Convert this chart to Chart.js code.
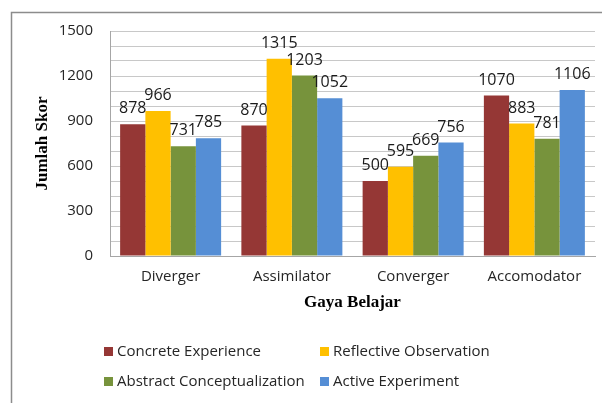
<!DOCTYPE html>
<html>
<head>
<meta charset="utf-8">
<script src="https://cdn.jsdelivr.net/npm/chart.js@4"></script>
<style>
  html, body { margin: 0; padding: 0; background: #fff; }
  #wrap { width: 602px; height: 403px; position: relative; }
</style>
</head>
<body>
<div id="wrap"><canvas id="chart"></canvas></div>
<script>
// data
const categories = ['Diverger', 'Assimilator', 'Converger', 'Accomodator'];
const seriesNames = ['Concrete Experience', 'Reflective Observation', 'Abstract Conceptualization', 'Active Experiment'];
const concreteExperience = [878, 870, 500, 1070];
const reflectiveObservation = [966, 1315, 595, 883];
const abstractConceptualization = [731, 1203, 669, 781];
const activeExperiment = [785, 1052, 756, 1106];
const yTickLabels = [0, 300, 600, 900, 1200, 1500];

const colors = ['#953735', '#ffc000', '#77933c', '#558ed5'];
const seriesValues = [concreteExperience, reflectiveObservation, abstractConceptualization, activeExperiment];

const FONT = '"Open Sans", "Noto Sans", sans-serif';
const SERIF = '"Liberation Serif", "DejaVu Serif", serif';

// value labels above each bar
const barLabels = {
  id: 'barLabels',
  afterDatasetsDraw(chart) {
    const ctx = chart.ctx;
    ctx.save();
    ctx.font = '16px ' + FONT;
    ctx.fillStyle = '#1a1a1a';
    ctx.textAlign = 'center';
    ctx.textBaseline = 'alphabetic';
    chart.data.datasets.forEach((ds, i) => {
      chart.getDatasetMeta(i).data.forEach((bar, j) => {
        ctx.fillText(String(ds.data[j]), bar.x, bar.y - 11);
      });
    });
    ctx.restore();
  }
};

// legend in two rows, two columns, plus the outer frame
const sideBits = {
  id: 'sideBits',
  afterDraw(chart) {
    const ctx = chart.ctx;
    ctx.save();
    ctx.strokeStyle = '#8c8c8c';
    ctx.lineWidth = 1.5;
    ctx.beginPath();
    ctx.moveTo(11.5, 403);
    ctx.lineTo(11.5, 12.5);
    ctx.lineTo(602, 12.5);
    ctx.stroke();

    const cols = [104, 320];
    const rows = [352, 382];
    ctx.font = '15px ' + FONT;
    ctx.textBaseline = 'middle';
    ctx.textAlign = 'left';
    chart.data.datasets.forEach((ds, i) => {
      const x = cols[i % 2];
      const y = rows[Math.floor(i / 2)];
      ctx.fillStyle = ds.backgroundColor;
      ctx.fillRect(x, y - 5, 9, 9);
      ctx.fillStyle = '#262626';
      ctx.fillText(ds.label, x + 13, y);
    });
    ctx.restore();
  }
};

new Chart(document.getElementById('chart'), {
  type: 'bar',
  data: {
    labels: categories,
    datasets: seriesNames.map((name, i) => ({
      label: name,
      data: seriesValues[i],
      backgroundColor: colors[i],
      borderWidth: 0,
      barPercentage: 1,
      categoryPercentage: 0.833,
    })),
  },
  options: {
    responsive: true,
    maintainAspectRatio: false,
    animation: false,
    layout: { padding: { left: 11, top: 31, right: 7, bottom: 87 } },
    plugins: {
      legend: { display: false },
      tooltip: { enabled: false },
    },
    scales: {
      x: {
        grid: { display: false, drawTicks: false },
        border: { color: '#a6a6a6', width: 1 },
        ticks: { color: '#262626', font: { family: FONT, size: 15 }, padding: 12, maxRotation: 0 },
        title: {
          display: true,
          text: 'Gaya Belajar',
          color: '#000',
          font: { family: SERIF, size: 17, weight: 'bold' },
          padding: { top: 0, bottom: 3 },
        },
        afterFit(scale) { scale.height = 60; },
      },
      y: {
        min: 0,
        max: 1500,
        grid: { color: '#c8c8c8', drawTicks: false },
        border: { color: '#a6a6a6', width: 1 },
        ticks: {
          stepSize: 100,
          autoSkip: false,
          padding: 17,
          color: '#262626',
          font: { family: FONT, size: 15 },
          callback: (v) => (yTickLabels.includes(v) ? String(v) : ''),
        },
        title: {
          display: true,
          text: 'Jumlah Skor',
          color: '#000',
          font: { family: SERIF, size: 17, weight: 'bold' },
          padding: { top: 21, bottom: 0 },
        },
        afterFit(scale) { scale.width = 99; },
      },
    },
  },
  plugins: [barLabels, sideBits],
});
</script>
</body>
</html>
